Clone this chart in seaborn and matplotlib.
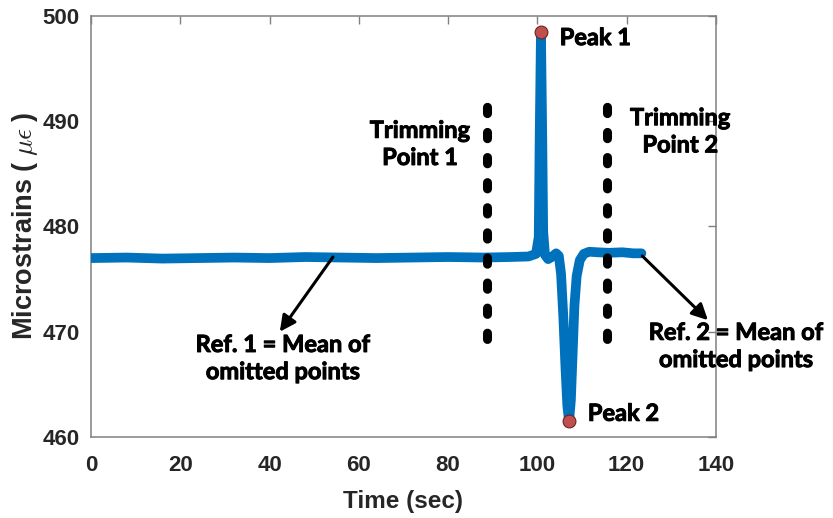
import matplotlib
matplotlib.use("Agg")
import matplotlib.pyplot as plt
import matplotlib.patheffects as pe
import seaborn as sns
import pandas as pd

# Strain record (time in seconds, strain in microstrains)
time_s = [0, 8, 16, 24, 32, 40, 48, 56, 64, 72, 80, 88, 94, 98, 99.7,
          100.3, 100.5, 100.8, 101.1, 101.3, 101.7, 102.4, 103.2, 104.2,
          104.8, 105.3, 105.8, 106.3, 106.7, 107.1, 107.5, 107.9, 108.3,
          108.8, 109.5, 110.4, 111.6, 113.5, 116, 119, 121.5, 123.3]
strain = [477.0, 477.05, 476.95, 477.0, 477.05, 477.0, 477.1, 477.05, 477.0,
          477.05, 477.1, 477.05, 477.1, 477.15, 477.4,
          479.0, 488.0, 498.5, 488.0, 479.5, 477.3, 476.9, 477.1, 477.45,
          477.2, 475.5, 471.5, 466.5, 463.0, 461.5, 463.5, 468.0, 472.5,
          475.3, 476.8, 477.4, 477.6, 477.55, 477.5, 477.55, 477.45, 477.45]

# Detected peaks
peak_time = [100.8, 107.1]
peak_strain = [498.5, 461.5]
peak_names = ["Peak 1", "Peak 2"]

# Trimming points and the vertical extent of their markers
trim_time = [88.7, 115.6]
trim_span = [469.3, 491.5]
trim_names = ["Trimming\nPoint 1", "Trimming\nPoint 2"]

x_ticks = [0, 20, 40, 60, 80, 100, 120, 140]
y_ticks = [460, 470, 480, 490, 500]

sns.set_theme(style="white")
plt.rcParams["font.family"] = ["Liberation Sans", "DejaVu Sans"]
plt.rcParams["mathtext.fontset"] = "cm"

fig = plt.figure(figsize=(8.33, 5.18), dpi=100)
ax = fig.add_axes([0.1092, 0.1564, 0.7503, 0.8127])

df = pd.DataFrame({"t": time_s, "s": strain})
sns.lineplot(data=df, x="t", y="s", ax=ax, color="#0072BD", linewidth=7.0,
             estimator=None, sort=False, solid_capstyle="round",
             solid_joinstyle="round", zorder=3)

# Trimming point markers
for tt in trim_time:
    ax.plot([tt, tt], trim_span, color="black", linewidth=6.5,
            linestyle=(0, (0.7, 2.08)), dash_capstyle="round", zorder=4)

# Peak markers
pk = pd.DataFrame({"t": peak_time, "s": peak_strain})
sns.scatterplot(data=pk, x="t", y="s", ax=ax, s=85, color="#C0504D",
                edgecolor="#6b2420", linewidth=0.8, zorder=5, clip_on=False)

# Annotation text: bold with a thin outline for extra weight
heavy = [pe.withStroke(linewidth=0.7, foreground="black")]
ann_font = dict(family=["Lato", "DejaVu Sans"], fontweight="bold",
                fontsize=17, color="black", path_effects=heavy)

ax.text(peak_time[0] + 4.2, peak_strain[0] - 0.55, peak_names[0],
        ha="left", va="center", **ann_font)
ax.text(peak_time[1] + 4.2, peak_strain[1] + 0.75, peak_names[1],
        ha="left", va="center", **ann_font)

ax.text(73.7, 487.85, trim_names[0], ha="center", va="center",
        linespacing=1.22, clip_on=False, **ann_font)
ax.text(132.0, 489.05, trim_names[1], ha="center", va="center",
        linespacing=1.22, clip_on=False, **ann_font)

# Reference annotations with arrows
arrow = dict(arrowstyle="-|>", color="black", lw=2.2, mutation_scale=24,
             shrinkA=0, shrinkB=0)
ax.annotate("", xy=(42.3, 470.0), xytext=(54.2, 477.1),
            arrowprops=arrow, zorder=6)
ax.annotate("", xy=(138.2, 471.1), xytext=(123.5, 477.2),
            arrowprops=arrow, zorder=6, annotation_clip=False)

ax.text(43.0, 467.5, "Ref. 1 = Mean of\nomitted points", ha="center",
        va="center", linespacing=1.22, **ann_font)
ax.text(144.5, 468.65, "Ref. 2 = Mean of\nomitted points", ha="center",
        va="center", linespacing=1.22, clip_on=False, **ann_font)

ax.set_xlim(0, 140)
ax.set_ylim(460, 500)
ax.set_xticks(x_ticks)
ax.set_yticks(y_ticks)
ax.set_xticklabels([str(v) for v in x_ticks])
ax.set_yticklabels([str(v) for v in y_ticks])

tick_col = "#262626"
for lab in ax.get_xticklabels() + ax.get_yticklabels():
    lab.set_fontweight("bold")
    lab.set_fontsize(16)
    lab.set_color(tick_col)

ax.tick_params(direction="in", top=True, right=True, length=6, width=1,
               color="#808080")
ax.tick_params(axis="x", pad=13)
ax.tick_params(axis="y", pad=8)
for sp in ax.spines.values():
    sp.set_color("#808080")
    sp.set_linewidth(1.1)

ax.set_xlabel("Time (sec)", fontsize=17.5, fontweight="bold", color=tick_col,
              labelpad=10)
ax.set_ylabel(r"Microstrains ($\;\mu\epsilon\;$)", fontsize=19.5,
              fontweight="bold", color=tick_col, labelpad=2)

fig.savefig("out.png", dpi=100)
